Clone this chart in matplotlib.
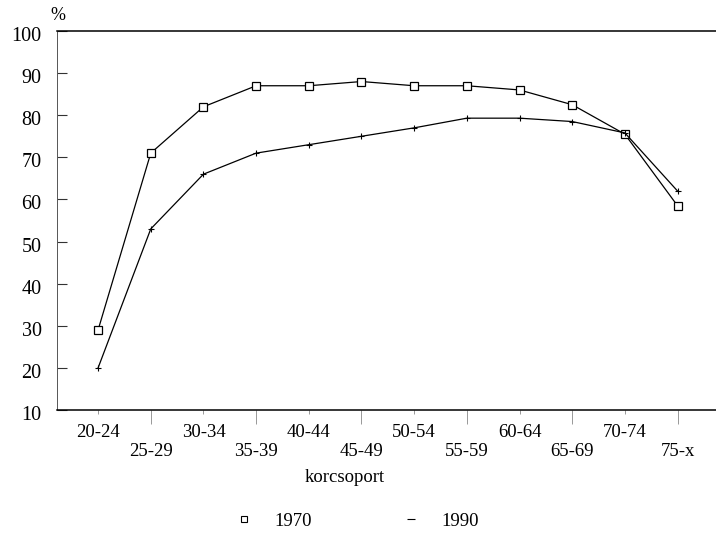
import matplotlib
matplotlib.use("Agg")
import matplotlib.pyplot as plt
from matplotlib.lines import Line2D
from matplotlib.transforms import ScaledTranslation

categories = ["20-24", "25-29", "30-34", "35-39", "40-44", "45-49",
              "50-54", "55-59", "60-64", "65-69", "70-74", "75-x"]
y1970 = [29, 71, 82, 87, 87, 88, 87, 87, 86, 82.5, 75.5, 58.5]
y1990 = [20, 53, 66, 71, 73, 75, 77, 79.3, 79.3, 78.5, 75.8, 62]
yticks = [10, 20, 30, 40, 50, 60, 70, 80, 90, 100]

plt.rcParams['font.family'] = ['Liberation Serif', 'DejaVu Serif']

fig = plt.figure(figsize=(7.16, 5.35), dpi=100)
ax = fig.add_axes([57/716, 1 - 410/535, 1 - 57/716, (410 - 31)/535])

x = list(range(len(categories)))
ax.plot(x, y1970, color='black', lw=0.9, marker='s', ms=5.5,
        mfc='white', mec='black', mew=0.9)
ax.plot(x, y1990, color='black', lw=0.9, marker='+', ms=5, mew=0.8)

ax.set_xlim(-0.78, 11.73)
ax.set_ylim(10, 100)

ax.set_yticks(yticks)
ax.set_yticklabels([str(v) for v in yticks], fontsize=14.5)
ax.tick_params(axis='y', direction='in', length=7, width=0.8, color='#333333', pad=11)
offset = ScaledTranslation(0, -3/100, fig.dpi_scale_trans)
for lab in ax.get_yticklabels():
    lab.set_transform(lab.get_transform() + offset)

even = x[0::2]
odd = x[1::2]
ax.set_xticks(even, [categories[i] for i in even])
ax.set_xticks(odd, ["\n" + categories[i] for i in odd], minor=True)
ax.tick_params(axis='x', which='major', direction='out', length=3, width=0.6,
               color='#888888', labelsize=13.5, pad=7)
ax.tick_params(axis='x', which='minor', direction='out', length=10, width=0.6,
               color='#888888', labelsize=13.5, pad=0)

ax.spines['right'].set_visible(False)
ax.spines['top'].set_linewidth(1.1)
ax.spines['bottom'].set_linewidth(1.1)
ax.spines['left'].set_linewidth(0.7)
ax.spines['left'].set_linestyle((0, (3, 1)))
ax.spines['left'].set_color('#555555')

fig.text(58/716, 1 - 15/535, "%", fontsize=13, ha='center', va='center')
fig.text(345/716, 1 - 478/535, "korcsoport", fontsize=13.5, ha='center', va='center')

handles = [
    Line2D([], [], ls='none', marker='s', ms=5, mfc='white', mec='black', mew=0.8),
    Line2D([], [], ls='none', marker='_', ms=6, mec='black', mew=0.8),
]
fig.legend(handles, ["1970", "1990"], loc='center',
           bbox_to_anchor=(352/716, 1 - 521/535), ncol=2, frameon=False,
           fontsize=13.5, columnspacing=4.3, handletextpad=0.6, handlelength=2)

fig.savefig("out.png", dpi=100, facecolor='white')
